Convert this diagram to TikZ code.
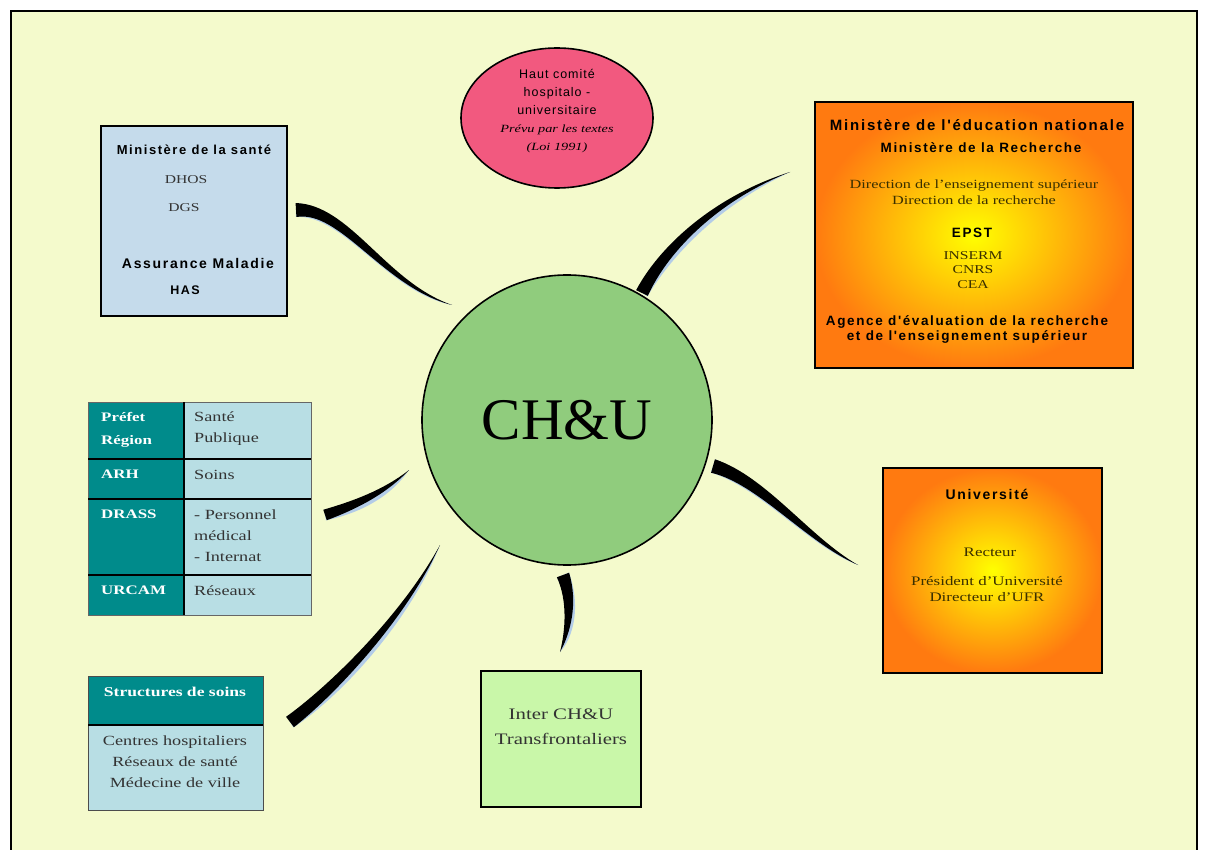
\documentclass[tikz,border=0pt]{standalone}
\usepackage{fontspec}
\setmainfont{Liberation Serif}[FakeStretch=1.3]
\setsansfont{Liberation Sans}
\newfontfamily\titlefont{Liberation Sans}[LetterSpace=12]
\newfontfamily\hcfont{Liberation Sans}[LetterSpace=8]
\newfontfamily\chufont{Liberation Serif}
\usetikzlibrary{positioning,calc,shapes.geometric}

\definecolor{paper}{HTML}{F4FACC}
\definecolor{santeblue}{HTML}{C5DBEB}
\definecolor{pinkc}{HTML}{F2597F}
\definecolor{greenc}{HTML}{90CC7D}
\definecolor{tealc}{HTML}{008B8B}
\definecolor{cyanc}{HTML}{B8DEE4}
\definecolor{intergreen}{HTML}{C9F7A9}
\definecolor{orangec}{HTML}{FF7A10}
\definecolor{brushblue}{HTML}{B3CCE8}
\definecolor{txtgray}{HTML}{333333}
\definecolor{txtolive}{HTML}{3A3000}

% tapered brush stroke: start, control 1, control 2, tip, half width
\newcommand{\brushside}[6]{($(#1)!#5pt!#6:(#2)$) .. controls ($(#2)!{0.8*#5pt}!#6:(#3)$) and ($(#3)!{0.45*#5pt}!#6:(#4)$) .. (#4)}
\newcommand{\brushback}[6]{.. controls ($(#3)!{0.45*#5pt}!#6:(#4)$) and ($(#2)!{0.8*#5pt}!#6:(#3)$) .. ($(#1)!#5pt!#6:(#2)$) -- cycle}
\newcommand{\brush}[5]{%
  \begin{scope}[shift={(3,4)}]
    \fill[brushblue] \brushside{#1}{#2}{#3}{#4}{#5}{90} \brushback{#1}{#2}{#3}{#4}{#5}{-90};
  \end{scope}
  \fill[black] \brushside{#1}{#2}{#3}{#4}{#5}{90} \brushback{#1}{#2}{#3}{#4}{#5}{-90};}

\begin{document}
\begin{tikzpicture}[x=1pt,y=-1pt,
   box/.style={draw=black, line width=1.6pt, inner sep=0pt, outer sep=0pt, anchor=north west},
   cellL/.style={draw=black!60, fill=tealc, inner sep=0pt, outer sep=0pt, anchor=north west,
                 minimum width=96pt},
   cellR/.style={draw=black!60, fill=cyanc, inner sep=0pt, outer sep=0pt, anchor=north west,
                 minimum width=127pt},
   sep/.style={line width=2pt, black},
   ttl/.style={font=\titlefont\bfseries\fontsize{#1}{15}\selectfont, align=center},
   ttl/.default=14,
   srf/.style={font=\fontsize{12}{14}\selectfont, text=txtgray, align=center},
   srfo/.style={font=\fontsize{12.5}{16}\selectfont, text=txtolive, align=center},
   ltxt/.style={font=\bfseries\fontsize{13}{23}\selectfont, text=white, align=left,
                anchor=north west, inner sep=0pt},
   rtxt/.style={font=\fontsize{14}{21}\selectfont, text=txtgray, align=left,
                anchor=north west, inner sep=0pt}
]
\useasboundingbox (0,0) rectangle (1208,850);
% frame
\fill[white] (0,0) rectangle (1208,850);
\draw[line width=2.5pt, fill=paper] (11,11) rectangle (1197,856);

% connectors
\coordinate (s1) at (296,210); \coordinate (e1) at (452,305);
\coordinate (s2) at (325,515); \coordinate (e2) at (409,470);
\coordinate (s3) at (290,722); \coordinate (e3) at (440,545);
\coordinate (s4) at (642,293); \coordinate (e4) at (790,172);
\coordinate (s5) at (713,466); \coordinate (e5) at (858,565);
\coordinate (s6) at (563,575); \coordinate (e6) at (560,652);
\brush{s1}{345,207}{385,285}{e1}{7}
\brush{s2}{355,505}{385,492}{e2}{5.5}
\brush{s3}{335,688}{405,615}{e3}{6.5}
\brush{s4}{662,252}{712,200}{e4}{6.5}
\brush{s5}{762,480}{808,540}{e5}{7}
\brush{s6}{573,602}{568,632}{e6}{6.5}

% centre
\node[circle, draw, line width=1.6pt, fill=greenc, minimum size=290pt,
      font=\chufont\fontsize{59}{59}\selectfont] (chu) at (567,420) {CH\&U};

% haut comite
\node[ellipse, draw, line width=1.6pt, fill=pinkc, minimum width=192pt, minimum height=140pt] (hcu) at (557,118) {};
\node[align=center, font=\hcfont\fontsize{12.5}{18}\selectfont] (hcut) at (557,111)
   {Haut comité\\hospitalo -\\universitaire\\{\rmfamily\itshape\fontsize{11}{18}\selectfont Prévu par les textes}\\{\rmfamily\itshape\fontsize{11}{18}\selectfont (Loi 1991)}};

% ministere de la sante
\node[box, fill=santeblue, minimum width=186pt, minimum height=190pt] (sante) at (101,126) {};
\node[ttl=13] (msante) at (194,150) {Ministère de la santé};
\node[srf] (dhos) at (186,180) {DHOS};
\node[srf] (dgs) at (184,208) {DGS};
\node[ttl=14] (amal) at (198,263) {Assurance Maladie};
\node[ttl=12.5] (has) at (185,290) {HAS};

% ministere education / recherche
\node[box, shade, inner color=yellow, outer color=orangec, minimum width=318pt, minimum height=266pt] (men) at (815,102) {};
\node[ttl=15] (men1) at (977,125) {Ministère de l'éducation nationale};
\node[ttl=13.5] (men2) at (981,148) {Ministère de la Recherche};
\node[srfo] (dir) at (974,192) {Direction de l'enseignement supérieur\\Direction de la recherche};
\node[ttl=13.5] (epst) at (972,233) {EPST};
\node[srfo, font=\fontsize{12}{14.5}\selectfont] (epstl) at (973,270) {INSERM\\CNRS\\CEA};
\node[ttl=13.5] (aeres) at (967,329) {Agence d'évaluation de la recherche\\et de l'enseignement supérieur};

% universite
\node[box, shade, inner color=yellow, outer color=orangec, minimum width=219pt, minimum height=205pt] (univ) at (883,468) {};
\node[ttl=14] (univt) at (987,494) {Université};
\node[srfo, font=\fontsize{13}{16}\selectfont] (rect) at (990,552) {Recteur};
\node[srfo, font=\fontsize{13}{16}\selectfont] (pres) at (987,589) {Président d'Université\\Directeur d'UFR};

% inter
\node[box, fill=intergreen, minimum width=160pt, minimum height=136pt] (inter) at (481,671) {};
\node[align=center, font=\fontsize{16}{25}\selectfont, text=txtgray] (intert) at (561,727) {Inter CH\&U\\Transfrontaliers};

% table
\node[cellL, minimum height=57pt] (prefet) at (88,402) {};
\node[cellR, minimum height=57pt, right=0pt of prefet] (spub) {};
\node[cellL, minimum height=40pt, below=0pt of prefet] (arh) {};
\node[cellR, minimum height=40pt, right=0pt of arh] (soins) {};
\node[cellL, minimum height=76pt, below=0pt of arh] (drass) {};
\node[cellR, minimum height=76pt, right=0pt of drass] (pers) {};
\node[cellL, minimum height=40pt, below=0pt of drass] (urcam) {};
\node[cellR, minimum height=40pt, right=0pt of urcam] (reseaux) {};
\draw[sep] (prefet.south west) -- (spub.south east);
\draw[sep] (arh.south west) -- (soins.south east);
\draw[sep] (drass.south west) -- (pers.south east);
\draw[sep] (prefet.north east) -- (urcam.south east);
\node[ltxt] (tprefet) at ([shift={(13,10)}]prefet.north west) {Préfet\\Région};
\node[ltxt] (tarh) at ([shift={(13,11)}]arh.north west) {ARH};
\node[ltxt] (tdrass) at ([shift={(13,11)}]drass.north west) {DRASS};
\node[ltxt] (turcam) at ([shift={(13,11)}]urcam.north west) {URCAM};
\node[rtxt] (tspub) at ([shift={(10,10)}]spub.north west) {Santé\\Publique};
\node[rtxt] (tsoins) at ([shift={(10,11)}]soins.north west) {Soins};
\node[rtxt] (tpers) at ([shift={(10,11)}]pers.north west) {- Personnel\\médical\\- Internat};
\node[rtxt] (treseaux) at ([shift={(10,11)}]reseaux.north west) {Réseaux};

% structures de soins
\node[cellL, draw=black!70, minimum width=175pt, minimum height=49pt] (struct) at (88,676) {};
\node[cellR, draw=black!70, minimum width=175pt, minimum height=85pt, below=0pt of struct] (structb) {};
\draw[line width=1.2pt] (struct.south west) -- (struct.south east);
\node[font=\bfseries\fontsize{13.5}{14}\selectfont, text=white] (structt) at (175,692) {Structures de soins};
\node[align=center, font=\fontsize{14}{21}\selectfont, text=txtgray] (structl) at (175,762)
   {Centres hospitaliers\\Réseaux de santé\\Médecine de ville};
\end{tikzpicture}
\end{document}
